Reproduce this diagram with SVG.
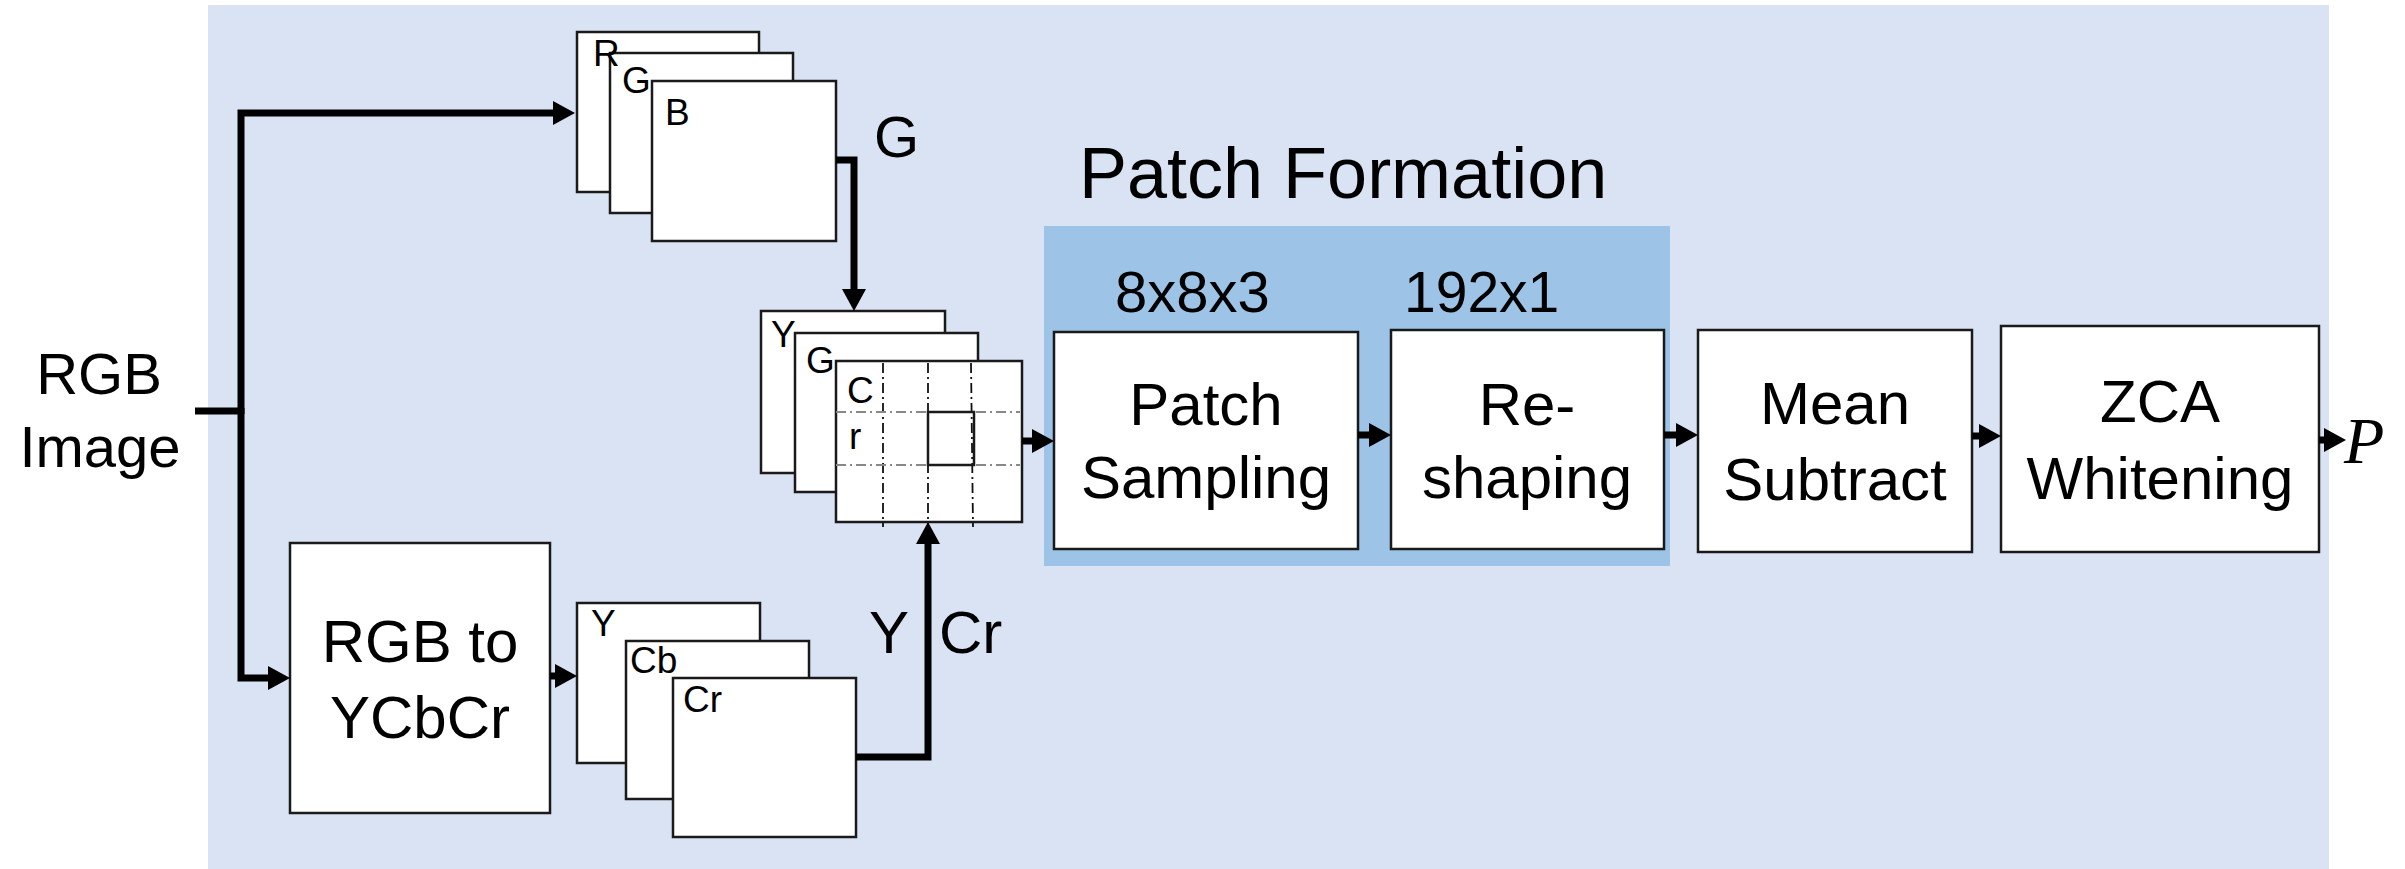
<svg xmlns="http://www.w3.org/2000/svg" width="2405" height="869" viewBox="0 0 2405 869">
<style>
.box{fill:#ffffff;stroke:#1a1a1a;stroke-width:2.5}
.lbl{font-family:"Liberation Sans",Arial,sans-serif;font-size:60px;fill:#000;text-anchor:middle}
.sm{font-family:"Liberation Sans",Arial,sans-serif;font-size:37px;fill:#000}
.big{font-family:"Liberation Sans",Arial,sans-serif;font-size:60px;fill:#000}
.conn{fill:none;stroke:#000;stroke-width:7;stroke-linejoin:miter}
.dv{stroke:#111;stroke-width:1.8;stroke-dasharray:10,4,2,4;fill:none}
.dh{stroke:#888;stroke-width:1.8;stroke-dasharray:10,4,2,4;fill:none}
</style>
<defs>
<marker id="ah" markerUnits="userSpaceOnUse" markerWidth="24" markerHeight="24" refX="12" refY="12" orient="auto">
<path d="M0,0 L22,12 L0,24 z" fill="#000"/>
</marker>
</defs>
<rect id="background" x="208" y="5" width="2121" height="864" fill="#DAE3F3"/>
<g id="patch-formation">
<rect x="1044" y="226" width="626" height="340" fill="#9DC3E6"/>
<text class="big" x="1079" y="198" style="font-size:72px">Patch Formation</text>
<text class="big" x="1115" y="312" style="font-size:58px">8x8x3</text>
<text class="big" x="1404" y="312" style="font-size:57px">192x1</text>
</g>
<g id="rgb-image">
<text class="lbl" x="99" y="394" style="font-size:58px">RGB</text>
<text class="lbl" x="100" y="467" style="font-size:58px">Image</text>
</g>
<g id="rgb-stack">
<rect class="box" x="577" y="32" width="182" height="160"/>
<rect class="box" x="610" y="53" width="183" height="160"/>
<rect class="box" x="652" y="81" width="184" height="160"/>
<text class="sm" x="593" y="66">R</text>
<text class="sm" x="622" y="93">G</text>
<text class="sm" x="665" y="125">B</text>
</g>
<g id="ygcr-stack">
<rect class="box" x="761" y="311" width="184" height="162"/>
<rect class="box" x="795" y="333" width="183" height="159"/>
<rect class="box" x="836" y="361" width="186" height="161"/>
<path class="dv" d="M883,363 V527 M928,363 V527 M971,363 L973,527"/>
<path class="dh" d="M836,412 H1020 M836,465 H1020"/>
<rect x="928" y="412" width="46" height="53" fill="none" stroke="#1a1a1a" stroke-width="2.5"/>
<text class="sm" x="771" y="347">Y</text>
<text class="sm" x="806" y="373">G</text>
<text class="sm" x="847" y="403">C</text>
<text class="sm" x="849" y="449">r</text>
</g>
<g id="rgb-to-ycbcr">
<rect class="box" x="290" y="543" width="260" height="270"/>
<text class="lbl" x="420" y="662">RGB to</text>
<text class="lbl" x="420" y="738">YCbCr</text>
</g>
<g id="ycbcr-stack">
<rect class="box" x="577" y="603" width="183" height="160"/>
<rect class="box" x="626" y="641" width="183" height="158"/>
<rect class="box" x="673" y="678" width="183" height="159"/>
<text class="sm" x="591" y="636">Y</text>
<text class="sm" x="630" y="673">Cb</text>
<text class="sm" x="683" y="712">Cr</text>
</g>
<g id="patch-sampling">
<rect class="box" x="1054" y="332" width="304" height="217"/>
<text class="lbl" x="1206" y="425">Patch</text>
<text class="lbl" x="1206" y="498">Sampling</text>
</g>
<g id="reshaping">
<rect class="box" x="1391" y="330" width="273" height="219"/>
<text class="lbl" x="1527" y="425">Re-</text>
<text class="lbl" x="1527" y="498">shaping</text>
</g>
<g id="mean-subtract">
<rect class="box" x="1698" y="330" width="274" height="222"/>
<text class="lbl" x="1835" y="424">Mean</text>
<text class="lbl" x="1835" y="500">Subtract</text>
</g>
<g id="zca-whitening">
<rect class="box" x="2001" y="326" width="318" height="226"/>
<text class="lbl" x="2160" y="422">ZCA</text>
<text class="lbl" x="2160" y="499">Whitening</text>
</g>
<g id="output-p">
<text x="2344" y="463" style="font-family:'Liberation Serif','Times New Roman',serif;font-style:italic;font-size:66px;fill:#000">P</text>
</g>
<g id="connectors">
<path class="conn" d="M195,411 H241"/>
<path class="conn" d="M241,414 V113 H565" marker-end="url(#ah)"/>
<path class="conn" d="M241,408 V678 H280" marker-end="url(#ah)"/>
<path class="conn" d="M836,160 H854 V301" marker-end="url(#ah)"/>
<path class="conn" d="M550,676 H567" marker-end="url(#ah)"/>
<path class="conn" d="M856,757 H928 V532" marker-end="url(#ah)"/>
<path class="conn" d="M1022,441 H1044" marker-end="url(#ah)"/>
<path class="conn" d="M1358,435 H1381" marker-end="url(#ah)"/>
<path class="conn" d="M1664,435 H1688" marker-end="url(#ah)"/>
<path class="conn" d="M1972,436 H1991" marker-end="url(#ah)"/>
<path class="conn" d="M2319,440 H2336" marker-end="url(#ah)"/>
<text class="big" x="869" y="653">Y</text>
<text class="big" x="939" y="653">Cr</text>
<text class="big" x="874" y="157" style="font-size:58px">G</text>
</g>
</svg>
